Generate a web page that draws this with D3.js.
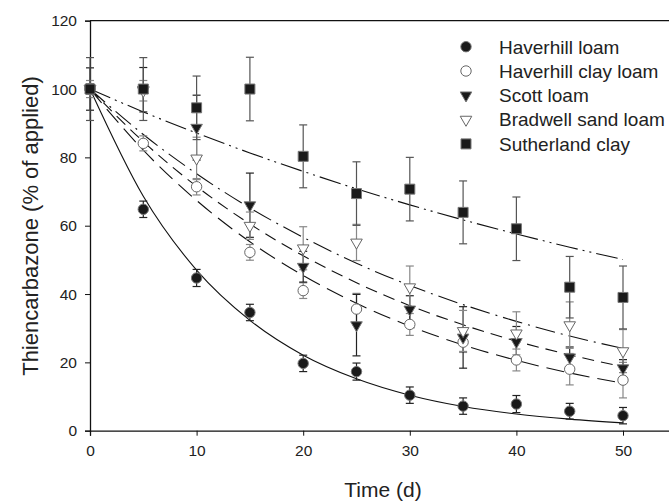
<!DOCTYPE html>
<html>
<head>
<meta charset="utf-8">
<script src="https://cdn.jsdelivr.net/npm/d3@7"></script>
<style>
  body { margin: 0; background: #fff; }
  svg { font-family: "Liberation Sans", Arial, sans-serif; }
  .tick text { font-size: 15.5px; fill: #222; }
</style>
</head>
<body>
<svg width="669" height="502"></svg>
<script>
// sampling days
const days = [0, 5, 10, 15, 20, 25, 30, 35, 40, 45, 50];

const haverhillLoam = [100, 64.8, 44.7, 34.6, 19.7, 17.3, 10.4, 7.2, 7.8, 5.7, 4.4];
const haverhillLoamErr = [1.5, 2.4, 2.5, 2.4, 2.4, 2.5, 2.4, 2.4, 2.5, 2.3, 2.4];
const haverhillClayLoam = [100, 84.1, 71.4, 52.2, 41.0, 35.6, 31.1, 25.9, 20.7, 18.0, 14.8];
const haverhillClayLoamErr = [1.5, 2.2, 2.4, 2.3, 2.3, 4.6, 3.2, 3.0, 3.2, 4.6, 5.2];
const scottLoam = [100, 99.8, 88.7, 66.0, 48.0, 30.9, 35.5, 27.3, 26.0, 21.5, 18.3];
const scottLoamErr = [6.2, 6.5, 9.5, 9.4, 4.5, 9.0, 4.0, 9.0, 4.5, 3.0, 2.5];
const bradwellSandLoam = [100, 99.5, 79.7, 60.0, 53.4, 55.1, 42.0, 29.2, 28.5, 30.9, 23.3];
const bradwellSandLoamErr = [2.5, 3.0, 6.2, 4.0, 6.3, 5.3, 6.2, 6.0, 6.3, 6.8, 6.3];
const sutherlandClay = [100, 100, 94.5, 100, 80.3, 69.4, 70.7, 63.9, 59.1, 42.0, 39.0];
const sutherlandClayErr = [9.2, 9.2, 9.3, 9.3, 9.2, 9.3, 9.3, 9.2, 9.3, 9.0, 9.2];

// fitted decay curves at each sampling day
const haverhillLoamFit = [100, 68.6, 47.0, 32.3, 22.1, 15.2, 10.4, 7.1, 4.9, 3.4, 2.3];
const haverhillClayLoamFit = [100, 82.1, 67.4, 55.3, 45.4, 37.3, 30.6, 25.1, 20.6, 16.9, 13.9];
const scottLoamFit = [100, 84.6, 71.5, 60.5, 51.2, 43.3, 36.6, 31.0, 26.2, 22.2, 18.7];
const bradwellSandLoamFit = [100, 86.7, 75.2, 65.2, 56.6, 49.0, 42.5, 36.9, 32.0, 27.7, 24.1];
const sutherlandClayFit = [100, 93.3, 87.1, 81.3, 75.9, 70.8, 66.1, 61.7, 57.6, 53.7, 50.1];

const xTicks = [0, 10, 20, 30, 40, 50];
const yTicks = [0, 20, 40, 60, 80, 100, 120];

const series = [
  { name: "Haverhill loam", mean: haverhillLoam, err: haverhillLoamErr, fit: haverhillLoamFit,
    symbol: d3.symbolCircle, size: 85, filled: true, dash: null, errColor: "#222" },
  { name: "Haverhill clay loam", mean: haverhillClayLoam, err: haverhillClayLoamErr, fit: haverhillClayLoamFit,
    symbol: d3.symbolCircle, size: 85, filled: false, dash: "18,8", errColor: "#888" },
  { name: "Scott loam", mean: scottLoam, err: scottLoamErr, fit: scottLoamFit,
    symbol: d3.symbolTriangle, size: 58, filled: true, dash: "12,7", down: true, errColor: "#222" },
  { name: "Bradwell sand loam", mean: bradwellSandLoam, err: bradwellSandLoamErr, fit: bradwellSandLoamFit,
    symbol: d3.symbolTriangle, size: 58, filled: false, dash: "20,6,2,6", down: true, errColor: "#888" },
  { name: "Sutherland clay", mean: sutherlandClay, err: sutherlandClayErr, fit: sutherlandClayFit,
    symbol: d3.symbolSquare, size: 100, filled: true, dash: "22,5,2,5,2,5", errColor: "#555" }
];

const svg = d3.select("svg");

// axes frame: x 0 at 90px, 50 at 623px; y 0 at 431px, 120 at 21px
const x = d3.scaleLinear().domain([0, 55]).range([90, 676.3]);
const y = d3.scaleLinear().domain([0, 120]).range([430.7, 20.7]);

// top border line
svg.append("line")
  .attr("x1", x(0)).attr("x2", x(55))
  .attr("y1", y(120)).attr("y2", y(120))
  .attr("stroke", "#111").attr("stroke-width", 1.3);

// x axis
const xAxis = svg.append("g")
  .attr("transform", `translate(0,${y(0)})`)
  .call(d3.axisBottom(x).tickValues(xTicks).tickSize(5).tickPadding(9));

// y axis
const yAxis = svg.append("g")
  .attr("transform", `translate(${x(0)},0)`)
  .call(d3.axisLeft(y).tickValues(yTicks).tickSize(5).tickPadding(8));

[xAxis, yAxis].forEach(a => {
  a.select(".domain").attr("stroke", "#111").attr("stroke-width", 1.3);
  a.selectAll(".tick line").attr("stroke", "#111").attr("stroke-width", 1);
  a.selectAll(".tick text").attr("font-family", null).attr("font-size", null);
});

// axis titles
svg.append("text")
  .attr("x", 383).attr("y", 497)
  .attr("text-anchor", "middle")
  .attr("font-size", 21).attr("fill", "#222")
  .text("Time (d)");

svg.append("text")
  .attr("transform", `translate(38,${226}) rotate(-90)`)
  .attr("text-anchor", "middle")
  .attr("font-size", 22).attr("fill", "#222")
  .text("Thiencarbazone (% of applied)");

// fitted curves
const line = d3.line()
  .x((d, i) => x(days[i]))
  .y(d => y(d))
  .curve(d3.curveMonotoneX);

svg.append("g")
  .selectAll("path")
  .data(series)
  .join("path")
  .attr("d", s => line(s.fit))
  .attr("fill", "none")
  .attr("stroke", "#111")
  .attr("stroke-width", 1.1)
  .attr("stroke-dasharray", s => s.dash);

// error bars
const capW = 4;
series.forEach(s => {
  const g = svg.append("g").attr("stroke", s.errColor).attr("stroke-width", 1.2);
  const pts = days.map((t, i) => ({ t, m: s.mean[i], e: s.err[i] }));
  g.selectAll("line.bar").data(pts).join("line")
    .attr("class", "bar")
    .attr("x1", d => x(d.t)).attr("x2", d => x(d.t))
    .attr("y1", d => y(d.m + d.e)).attr("y2", d => y(d.m - d.e));
  g.selectAll("line.capTop").data(pts).join("line")
    .attr("class", "capTop")
    .attr("x1", d => x(d.t) - capW).attr("x2", d => x(d.t) + capW)
    .attr("y1", d => y(d.m + d.e)).attr("y2", d => y(d.m + d.e));
  g.selectAll("line.capBot").data(pts).join("line")
    .attr("class", "capBot")
    .attr("x1", d => x(d.t) - capW).attr("x2", d => x(d.t) + capW)
    .attr("y1", d => y(d.m - d.e)).attr("y2", d => y(d.m - d.e));
});

// markers
function marker(sel, s) {
  sel.attr("d", d3.symbol().type(s.symbol).size(s.size)())
    .attr("fill", s.filled ? "#1a1a1a" : "#fff")
    .attr("stroke", s.filled ? "#777" : "#666")
    .attr("stroke-width", 1);
}

series.forEach(s => {
  svg.append("g")
    .selectAll("path")
    .data(days.map((t, i) => ({ t, m: s.mean[i] })))
    .join("path")
    .call(marker, s)
    .attr("transform", d => `translate(${x(d.t)},${y(d.m)})${s.down ? " rotate(180)" : ""}`);
});

// legend
const legend = svg.append("g");
series.forEach((s, i) => {
  const ry = 46.7 + i * 24.3;
  legend.append("path")
    .call(marker, s)
    .attr("transform", `translate(466,${ry})${s.down ? " rotate(180)" : ""}`);
  legend.append("text")
    .attr("x", 499).attr("y", ry + 6.8)
    .attr("font-size", 19).attr("fill", "#222")
    .text(s.name);
});
</script>
</body>
</html>
